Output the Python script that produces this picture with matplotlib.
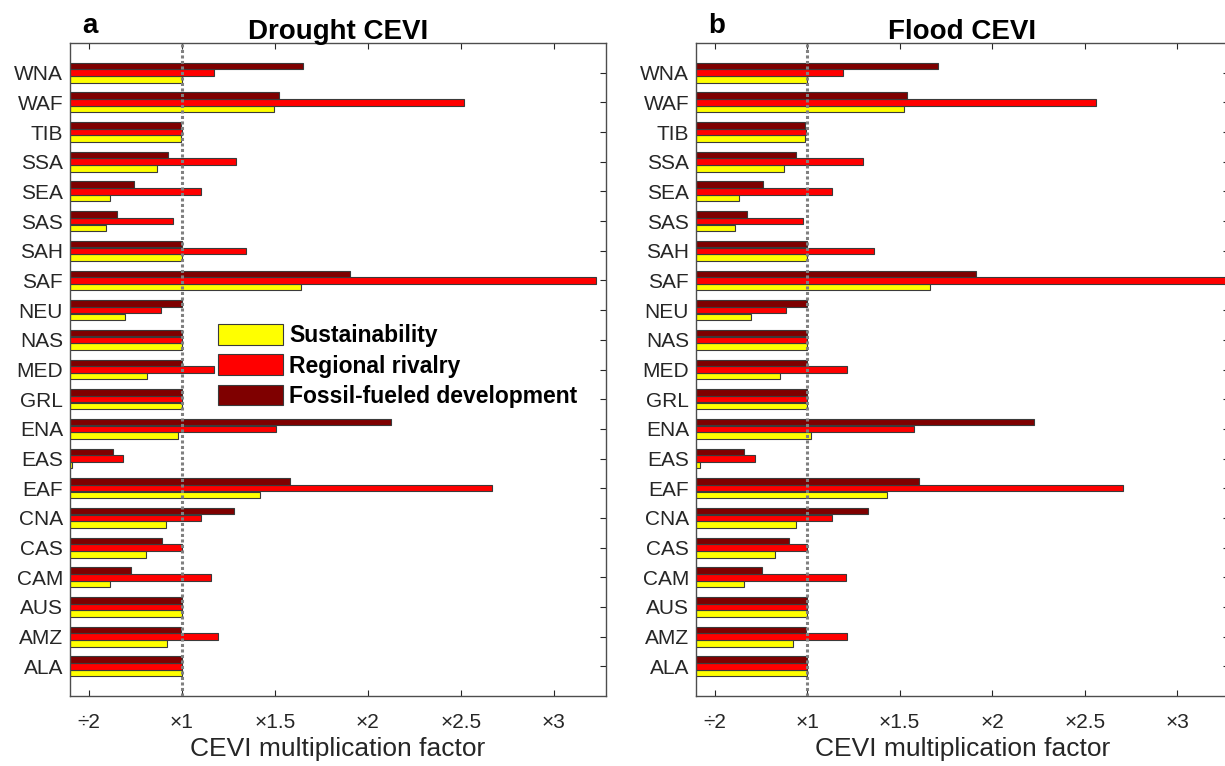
# ==========================================
# CEVI MULTIPLICATION FACTORS BY REGION
# DROUGHT AND FLOOD, THREE SCENARIOS
# ==========================================

import matplotlib.pyplot as plt
import numpy as np

plt.rcParams['font.family'] = ['Liberation Sans', 'DejaVu Sans']


# ==========================================
# DATA (regions listed bottom to top)
# ==========================================

regions = ['ALA', 'AMZ', 'AUS', 'CAM', 'CAS', 'CNA', 'EAF', 'EAS', 'ENA', 'GRL', 'MED',
           'NAS', 'NEU', 'SAF', 'SAH', 'SAS', 'SEA', 'SSA', 'TIB', 'WAF', 'WNA']

scenarios = ['Sustainability', 'Regional rivalry', 'Fossil-fueled development']

# Drought CEVI
drought_sust = [1.0, 0.921, 1.0, 0.616, 0.809, 0.914, 1.42, 0.41, 0.979, 1.0, 0.815,
                1.0, 0.697, 1.642, 1.0, 0.592, 0.614, 0.865, 0.995, 1.498, 1.0]
drought_rival = [1.0, 1.193, 1.0, 1.159, 1.0, 1.105, 2.667, 0.687, 1.506, 1.0, 1.172,
                 1.0, 0.888, 3.225, 1.348, 0.953, 1.105, 1.29, 1.0, 2.519, 1.176]
drought_fossil = [1.0, 0.994, 1.0, 0.727, 0.895, 1.281, 1.582, 0.631, 2.127, 1.0, 1.0,
                  1.0, 1.0, 1.906, 1.0, 0.655, 0.745, 0.929, 0.995, 1.524, 1.652]

# Flood CEVI
flood_sust = [1.0, 0.924, 1.0, 0.659, 0.825, 0.941, 1.432, 0.424, 1.02, 1.0, 0.856,
              1.0, 0.696, 1.662, 1.0, 0.609, 0.633, 0.876, 0.987, 1.522, 1.0]
flood_rival = [1.0, 1.216, 1.0, 1.208, 1.0, 1.135, 2.708, 0.72, 1.579, 1.0, 1.216,
               1.0, 0.886, 3.30, 1.36, 0.976, 1.137, 1.304, 0.993, 2.563, 1.192]
flood_fossil = [1.0, 0.993, 1.0, 0.758, 0.904, 1.327, 1.603, 0.66, 2.229, 1.0, 1.0,
                1.0, 1.0, 1.911, 1.0, 0.673, 0.76, 0.941, 0.989, 1.541, 1.705]

xtick_values = [0.5, 1.0, 1.5, 2.0, 2.5, 3.0]
xtick_labels = ['\u00f72', '\u00d71', '\u00d71.5', '\u00d72', '\u00d72.5', '\u00d73']

colors = ['#ffff00', '#ff0000', '#7f0000']
gray = '#262626'


# ==========================================
# FIGURE
# ==========================================

fig = plt.figure(figsize=(12.25, 7.66), dpi=100)

ax_a = fig.add_axes([70 / 1225, 1 - 696 / 766, 536 / 1225, 653 / 766])
ax_b = fig.add_axes([696 / 1225, 1 - 696 / 766, 533 / 1225, 653 / 766])

y = np.arange(1, len(regions) + 1)
bar_h = 0.22
offsets = [-0.225, 0.0, 0.225]


def draw_panel(ax, series, title, letter):

    bars = []
    for values, off, col, name in zip(series, offsets, colors, scenarios):
        b = ax.barh(y + off, values, height=bar_h, color=col,
                    edgecolor='#3a3a3a', linewidth=0.8, label=name, zorder=2)
        bars.append(b)

    # reference line at x1
    ax.axvline(1.0, color='#808080', linestyle=(0, (1.0, 0.8)), linewidth=2.2, zorder=3)

    ax.set_xlim(0.4, 3.28)
    ax.set_ylim(0, len(regions) + 1)

    ax.set_yticks(y)
    ax.set_yticklabels(regions)
    ax.set_xticks(xtick_values)
    ax.set_xticklabels(xtick_labels)

    ax.tick_params(axis='y', left=False, right=True, direction='in', length=4,
                   width=0.8, colors=gray, labelsize=15, pad=5)
    ax.tick_params(axis='x', top=True, bottom=True, direction='in', length=4,
                   width=0.8, colors=gray, labelsize=15, pad=12)

    for sp in ax.spines.values():
        sp.set_color('#4d4d4d')
        sp.set_linewidth(1.0)

    ax.set_xlabel('CEVI multiplication factor', fontsize=19, color=gray, labelpad=4)
    ax.set_title(title, fontsize=20, fontweight='bold', pad=3)

    fig.text(ax.get_position().x0 + 12 / 1225, 1 - 33 / 766, letter,
             fontsize=20, fontweight='bold', ha='left', va='baseline')

    return bars


bars_a = draw_panel(ax_a, [drought_sust, drought_rival, drought_fossil], 'Drought CEVI', 'a')
draw_panel(ax_b, [flood_sust, flood_rival, flood_fossil], 'Flood CEVI', 'b')


# ==========================================
# LEGEND
# ==========================================

leg = ax_a.legend(handles=bars_a, labels=scenarios,
                  loc='upper left', bbox_to_anchor=(218 / 1225, 1 - 324 / 766),
                  bbox_transform=fig.transFigure, frameon=False,
                  prop={'size': 16.5, 'weight': 'bold'},
                  handlelength=2.85, handleheight=1.0, handletextpad=0.25,
                  labelspacing=0.32, borderpad=0, borderaxespad=0)

fig.savefig('out.png', dpi=100)
